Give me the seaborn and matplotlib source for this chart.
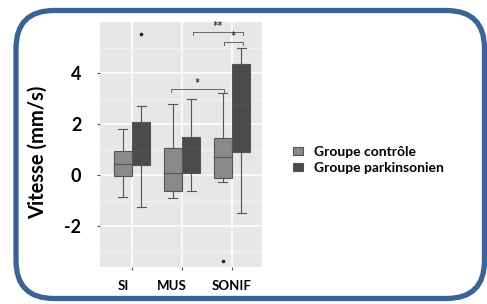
# speed boxplots, control vs parkinson groups, per condition
import pandas as pd
import numpy as np
import matplotlib
matplotlib.use("Agg")
import matplotlib.pyplot as plt
from matplotlib.patches import FancyBboxPatch
from matplotlib.transforms import ScaledTranslation
import seaborn as sns

plt.rcParams['font.family'] = ['Lato', 'DejaVu Sans']

############ DATA #################

conditions = ['SI', 'MUS', 'SONIF']
groups = ['Groupe contrôle', 'Groupe parkinsonien']

# values (9 per box so quartiles land on points)
si_ctrl = [-0.85, -0.4, -0.03, 0.2, 0.43, 0.7, 0.95, 1.3, 1.8]
si_park = [-1.24, 0.1, 0.4, 0.7, 0.99, 1.5, 2.07, 2.7, 5.53]
mus_ctrl = [-0.9, -0.75, -0.61, -0.3, 0.09, 0.6, 1.08, 1.9, 2.78]
mus_park = [-0.61, -0.2, 0.08, 0.6, 1.09, 1.3, 1.5, 2.2, 2.97]
sonif_ctrl = [-3.37, -0.26, -0.1, 0.3, 0.72, 1.1, 1.45, 2.3, 3.2]
sonif_park = [-1.48, 0.3, 0.91, 1.9, 2.73, 3.6, 4.35, 4.7, 4.97]

y_ticks = [-2, 0, 2, 4]

rows = []
for cond, ctrl, park in zip(conditions, [si_ctrl, mus_ctrl, sonif_ctrl],
                            [si_park, mus_park, sonif_park]):
    rows += [(cond, groups[0], v) for v in ctrl]
    rows += [(cond, groups[1], v) for v in park]
df = pd.DataFrame(rows, columns=['condition', 'groupe', 'vitesse'])

############ PLOT #################

fig = plt.figure(figsize=(4.87, 3.04), dpi=100)

# rounded blue frame drawn in pixel units
bg = fig.add_axes([0, 0, 1, 1], zorder=-1)
bg.set_xlim(0, 487)
bg.set_ylim(304, 0)
bg.axis('off')
bg.add_patch(FancyBboxPatch((16, 10.5), 468.5, 288,
                            boxstyle='round,pad=0,rounding_size=38',
                            fc='white', ec='#3b6496', lw=3.8))

ax = fig.add_axes([100 / 487, 37 / 304, 162 / 487, 245 / 304])
ax.set_facecolor('#e7e7e7')

sns.boxplot(data=df, x='condition', y='vitesse', hue='groupe', order=conditions,
            hue_order=groups, palette=['#8a8a8a', '#4b4b4b'], width=0.73,
            linewidth=0.8, linecolor='#555555', saturation=1,
            flierprops={'marker': 'o', 'markersize': 1.6, 'markerfacecolor': '#222222',
                        'markeredgecolor': '#222222'},
            ax=ax)

ax.set_xlim(-0.64, 2.6)
ax.set_ylim(-3.6, 6.0)
ax.set_yticks(y_ticks)
ax.set_yticklabels([str(t) for t in y_ticks])
ax.set_yticks([-3, -1, 1, 3, 5], minor=True)
ax.grid(True, which='major', color='white', lw=1.1)
ax.grid(True, which='minor', axis='y', color='#f4f4f4', lw=0.6)
ax.set_axisbelow(True)
for s in ax.spines.values():
    s.set_visible(False)

ax.tick_params(axis='y', which='major', length=2.5, width=0.8, color='#555555',
               pad=11, labelsize=13)
ax.tick_params(axis='y', which='minor', length=0)
ax.tick_params(axis='x', length=2.5, width=0.8, color='#555555', pad=7, labelsize=9.5)
for lab in ax.get_yticklabels() + ax.get_xticklabels():
    lab.set_fontweight('bold')

# x labels in the original sit a bit left of the groups
for lab, dx in zip(ax.get_xticklabels(), [-9, -10, 0]):
    lab.set_transform(lab.get_transform() + ScaledTranslation(dx / 100, 0, fig.dpi_scale_trans))

ax.set_xlabel('')
ax.set_ylabel('Vitesse (mm/s)', fontsize=14.5, fontweight='bold')
ax.yaxis.set_label_coords(-0.32, 0.47)

# significance brackets
def bracket(x0, x1, y, label, drop=0.12):
    ax.plot([x0, x0, x1, x1], [y - drop, y, y, y - drop], color='#666666', lw=0.7,
            clip_on=False)
    ax.text((x0 + x1) / 2, y - 0.05, label, ha='center', va='bottom', fontsize=9,
            color='#333333', fontweight='bold')

bracket(1.22, 2.22, 5.6, '**')
bracket(1.84, 2.22, 5.22, '*')
bracket(0.78, 1.84, 3.37, '*')

sns.move_legend(ax, 'center left', bbox_to_anchor=(280 / 487, 0.475),
                bbox_transform=fig.transFigure, frameon=False, title=None,
                prop={'weight': 'bold', 'size': 10}, handlelength=0.75,
                handleheight=0.5, handletextpad=0.8, labelspacing=0.3)

fig.savefig('out.png', dpi=100)
